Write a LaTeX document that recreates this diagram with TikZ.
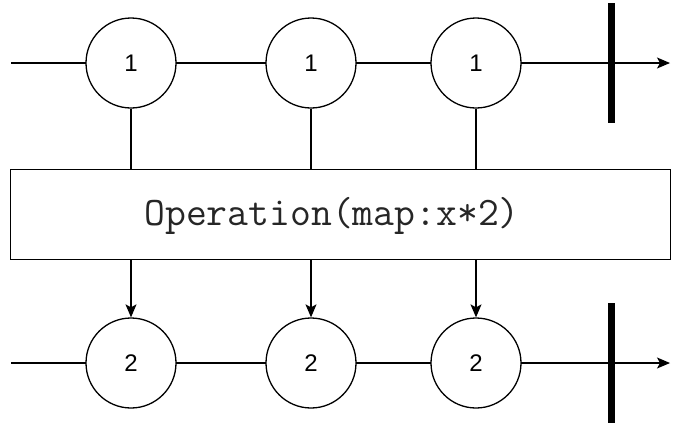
\documentclass[tikz,border=0pt]{standalone}
\usepackage{fontspec}
\setmainfont{Liberation Sans}
\usetikzlibrary{arrows.meta}
\begin{document}
\begin{tikzpicture}[x=1pt,y=-1pt,
  marble/.style={circle,draw,line width=1.3pt,fill=white,minimum size=90pt,inner sep=0pt},
  digit/.style={font=\fontsize{24}{26}\selectfont},
  wire/.style={line width=1.3pt},
  tip/.style={-{Stealth[length=13pt,width=11pt,inset=3pt]}},
  endbar/.style={line width=7pt}]
\useasboundingbox (0,0) rectangle (684,429);
% top timeline
\coordinate (ts) at (11,63);
\coordinate (te) at (670,63);
\draw[wire,tip] (ts) -- (te);
\coordinate (tb1) at (611,3);
\coordinate (tb2) at (611,123);
\draw[endbar] (tb1) -- (tb2);
\node[marble,digit] (a1) at (131,63) {1};
\node[marble,digit] (a2) at (311,63) {1};
\node[marble,digit] (a3) at (476,63) {1};
% operation box
\node[draw,line width=1.3pt,minimum width=660pt,minimum height=90pt,inner sep=0pt,anchor=north west] (op) at (10,169) {};
\node[font=\ttfamily\fontsize{40.5}{43}\selectfont,text=black!85] (optext) at (332,216) {Operation(map:x*2)};
% bottom timeline
\coordinate (bs) at (11,363);
\coordinate (be) at (670,363);
\draw[wire,tip] (bs) -- (be);
\coordinate (bb1) at (611,303);
\coordinate (bb2) at (611,423);
\draw[endbar] (bb1) -- (bb2);
\node[marble,digit] (b1) at (131,363) {2};
\node[marble,digit] (b2) at (311,363) {2};
\node[marble,digit] (b3) at (476,363) {2};
% connectors
\foreach \i in {1,2,3}{
  \draw[wire] (a\i.south) -- (a\i.south |- op.north);
  \draw[wire,tip] (b\i.north |- op.south) -- (b\i.north);
}
\end{tikzpicture}
\end{document}
